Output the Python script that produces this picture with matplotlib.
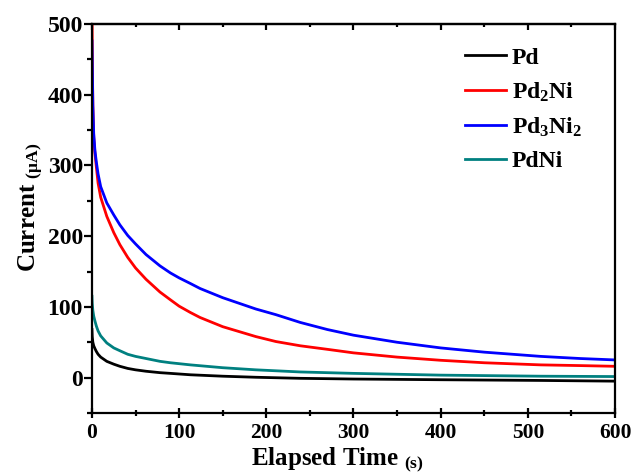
import matplotlib
matplotlib.use("Agg")
import matplotlib.pyplot as plt
from matplotlib.ticker import MultipleLocator

plt.rcParams['font.family'] = ['Liberation Serif', 'DejaVu Serif']
plt.rcParams['font.weight'] = 'bold'
plt.rcParams['mathtext.fontset'] = 'custom'
plt.rcParams['mathtext.rm'] = 'Liberation Serif:bold'
plt.rcParams['mathtext.bf'] = 'Liberation Serif:bold'
plt.rcParams['mathtext.it'] = 'Liberation Serif:bold:italic'

# Data
t_pd3ni2 = [0, 0.5, 1, 2, 3.4, 5, 7, 10, 17, 25, 32, 41, 50, 62, 78, 90, 100, 113, 124, 150,
            188, 211, 239, 270, 300, 350, 400, 450, 515, 560, 600]
i_pd3ni2 = [476, 430, 385, 345, 321, 305, 288, 270, 247, 230, 216, 201, 189, 174, 158, 148,
            141, 133, 126, 113, 97, 89, 78, 68, 60, 50, 42, 36, 30, 27, 25]

t_pd2ni = [0, 0.5, 1, 2, 3.4, 5, 7, 10, 17, 25, 32, 41, 50, 62, 78, 90, 100, 113, 124, 150,
           188, 211, 239, 270, 300, 350, 400, 450, 515, 560, 600]
i_pd2ni = [530, 440, 385, 340, 317, 298, 275, 255, 228, 205, 188, 170, 155, 139, 121, 110,
           101, 92, 85, 72, 58, 51, 45, 40, 35, 29, 24.5, 21, 18, 17, 16]

t_pdni = [0, 0.3, 1, 2, 3.4, 5, 7, 10, 17, 25, 32, 41, 50, 62, 78, 90, 113, 150,
          188, 239, 300, 400, 515, 600]
i_pdni = [115, 105, 95, 87, 80, 73, 66, 59, 49, 42, 38, 33, 30, 27, 23, 21, 18, 14,
          11, 8, 6, 3.5, 2, 1.5]

t_pd = [0, 0.3, 1, 2, 3.4, 5, 7, 10, 17, 25, 32, 41, 50, 62, 78, 90, 113, 150,
        188, 239, 300, 400, 515, 600]
i_pd = [68, 58, 50, 45, 41, 37, 33, 29, 23, 19, 16, 13, 11, 9, 7, 6, 4, 2,
        0.5, -1, -2, -3, -4, -5]

labels = ['Pd', r'Pd$\mathregular{_2}$Ni', r'Pd$\mathregular{_3}$Ni$\mathregular{_2}$', 'PdNi']
colors = ['#000000', '#ff0000', '#0000ff', '#008080']

fig = plt.figure(figsize=(6.33, 4.76), dpi=100)
ax = fig.add_axes([0.1453, 0.1324, 0.8263, 0.8172])

ax.plot(t_pd, i_pd, color=colors[0], lw=2.0, label=labels[0])
ax.plot(t_pd2ni, i_pd2ni, color=colors[1], lw=2.0, label=labels[1])
ax.plot(t_pd3ni2, i_pd3ni2, color=colors[2], lw=2.0, label=labels[2])
ax.plot(t_pdni, i_pdni, color=colors[3], lw=2.0, label=labels[3])

ax.set_xlim(0, 600)
ax.set_ylim(-50, 500)
ax.xaxis.set_major_locator(MultipleLocator(100))
ax.xaxis.set_minor_locator(MultipleLocator(50))
ax.yaxis.set_major_locator(MultipleLocator(100))
ax.yaxis.set_minor_locator(MultipleLocator(50))

for s in ax.spines.values():
    s.set_linewidth(1.6)

ax.tick_params(axis='y', which='major', direction='out', length=6, width=1.6, labelsize=17, pad=0.5)
ax.tick_params(axis='y', which='minor', direction='out', length=3.5, width=1.6)
ax.tick_params(axis='x', which='major', direction='inout', length=7, width=1.6, labelsize=15.5, pad=4)
ax.tick_params(axis='x', which='minor', direction='inout', length=4, width=1.6)
for lab in ax.get_xticklabels() + ax.get_yticklabels():
    lab.set_fontweight('bold')

sec = ax.secondary_xaxis('top')
sec.xaxis.set_major_locator(MultipleLocator(100))
sec.xaxis.set_minor_locator(MultipleLocator(50))
sec.tick_params(which='major', direction='in', length=4, width=1.6, labeltop=False)
sec.tick_params(which='minor', direction='in', length=2.5, width=1.6)
sec.spines['top'].set_linewidth(1.6)

ax.set_xlabel(r'Elapsed Time $\mathregular{_{(s)}}$', fontsize=18, fontweight='bold')
ax.set_ylabel(r'Current $\mathregular{_{(\mu A)}}$', fontsize=18, fontweight='bold')
ax.xaxis.set_label_coords(0.469, -0.083)
ax.yaxis.set_label_coords(-0.089, 0.53)

leg = ax.legend(loc='upper left', bbox_to_anchor=(0.672, 0.995), frameon=False,
                fontsize=17, handlelength=1.75, handletextpad=0.25, labelspacing=0.5)
for txt in leg.get_texts():
    txt.set_fontweight('bold')

fig.savefig('out.png', dpi=100)
